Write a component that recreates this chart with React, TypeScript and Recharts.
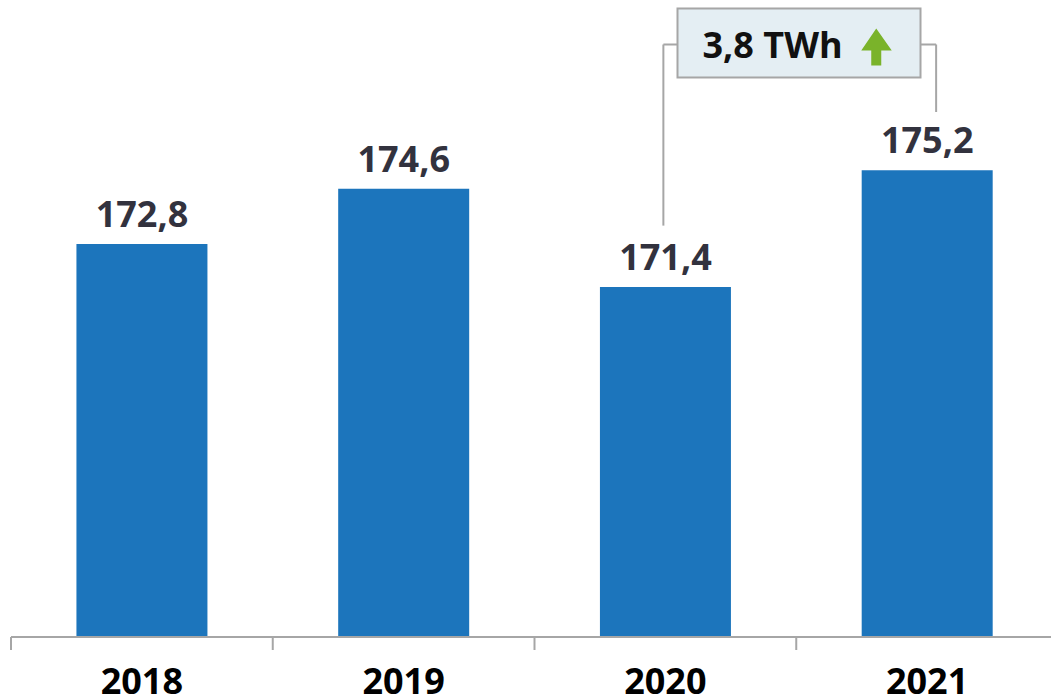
import { BarChart, Bar, XAxis, YAxis, LabelList, ReferenceLine } from "recharts";

const years = ["2018", "2019", "2020", "2021"];
const consumption = [172.8, 174.6, 171.4, 175.2];

// bracket that links 2020 and 2021 (data units)
const changeText = "3,8 TWh";
const bracketTop = 179.3;
const bracketFrom = { year: "2020", value: 173.4 };
const bracketTo = { year: "2021", value: 177.1 };

const data = years.map((year, i) => ({ year, value: consumption[i] }));

const BAR = "#1c75bc";
const GREY = "#a6a6a6";
const LABEL = "#32323e";

const CHART_W = 1060;
const MARGIN = { top: 23, right: 2, left: 11, bottom: 0 };
const HALF_BAND = (CHART_W - MARGIN.left - MARGIN.right) / years.length / 2;

const fmt = (v: number) => v.toFixed(1).replace(".", ",");

// year label in the middle, tick mark on the left edge of each band
const YearTick = (props: any) => {
  const { x, y, payload } = props;
  const edge = x - HALF_BAND;
  return (
    <g>
      <line x1={edge} y1={y} x2={edge} y2={y + 13} stroke={GREY} strokeWidth={2} />
      <text x={x} y={y + 57} textAnchor="middle" fontSize={36} fontWeight="bold" fill="#000">
        {payload.value}
      </text>
    </g>
  );
};

const shiftedLine = (dx1: number, dx2: number) => (props: any) => (
  <line
    x1={props.x1 + dx1}
    y1={props.y1}
    x2={props.x2 + dx2}
    y2={props.y2}
    stroke={GREY}
    strokeWidth={2}
  />
);

const ChangeBox = (props: any) => {
  const vb = props.viewBox || {};
  const cx = vb.x + vb.width / 2;
  const cy = vb.y;
  return (
    <g>
      <rect x={cx - 118.75} y={cy - 36} width={243} height={69} fill="#e4eef3" stroke={GREY} strokeWidth={2} />
      <text x={cx - 93.75} y={cy + 14} fontSize={36} fontWeight="bold" fill="#111">
        {changeText}
      </text>
      <path
        d={`M${cx + 80},${cy - 16} L${cx + 95.5},${cy + 6} L${cx + 85},${cy + 6} L${cx + 85},${cy + 21} L${cx + 75},${cy + 21} L${cx + 75},${cy + 6} L${cx + 65},${cy + 6} Z`}
        fill="#7ab32a"
      />
    </g>
  );
};

const App = () => {
  return (
    <div style={{ width: 1051, height: 698, overflow: "hidden", fontFamily: "'Open Sans', sans-serif" }}>
      <style>{`body{margin:0}`}</style>
      <BarChart width={CHART_W} height={698} data={data} margin={MARGIN} barCategoryGap="25%">
        <XAxis
          dataKey="year"
          height={61}
          axisLine={{ stroke: GREY, strokeWidth: 2 }}
          tickLine={false}
          tickSize={0}
          tickMargin={0}
          interval={0}
          tick={<YearTick />}
        />
        <YAxis hide type="number" domain={[160, 180]} allowDataOverflow />
        <Bar dataKey="value" fill={BAR} isAnimationActive={false}>
          <LabelList
            dataKey="value"
            position="top"
            offset={17}
            formatter={(v: any) => fmt(Number(v))}
            style={{ fontSize: 36, fontWeight: "bold", fill: LABEL }}
          />
        </Bar>
        <ReferenceLine
          segment={[
            { x: bracketFrom.year, y: bracketFrom.value },
            { x: bracketFrom.year, y: bracketTop },
          ]}
          shape={shiftedLine(-2, -2)}
        />
        <ReferenceLine
          segment={[
            { x: bracketTo.year, y: bracketTo.value },
            { x: bracketTo.year, y: bracketTop },
          ]}
          shape={shiftedLine(9, 9)}
        />
        <ReferenceLine
          segment={[
            { x: bracketFrom.year, y: bracketTop },
            { x: bracketTo.year, y: bracketTop },
          ]}
          shape={shiftedLine(-2, 9)}
          label={<ChangeBox />}
        />
      </BarChart>
    </div>
  );
};

export default App;
